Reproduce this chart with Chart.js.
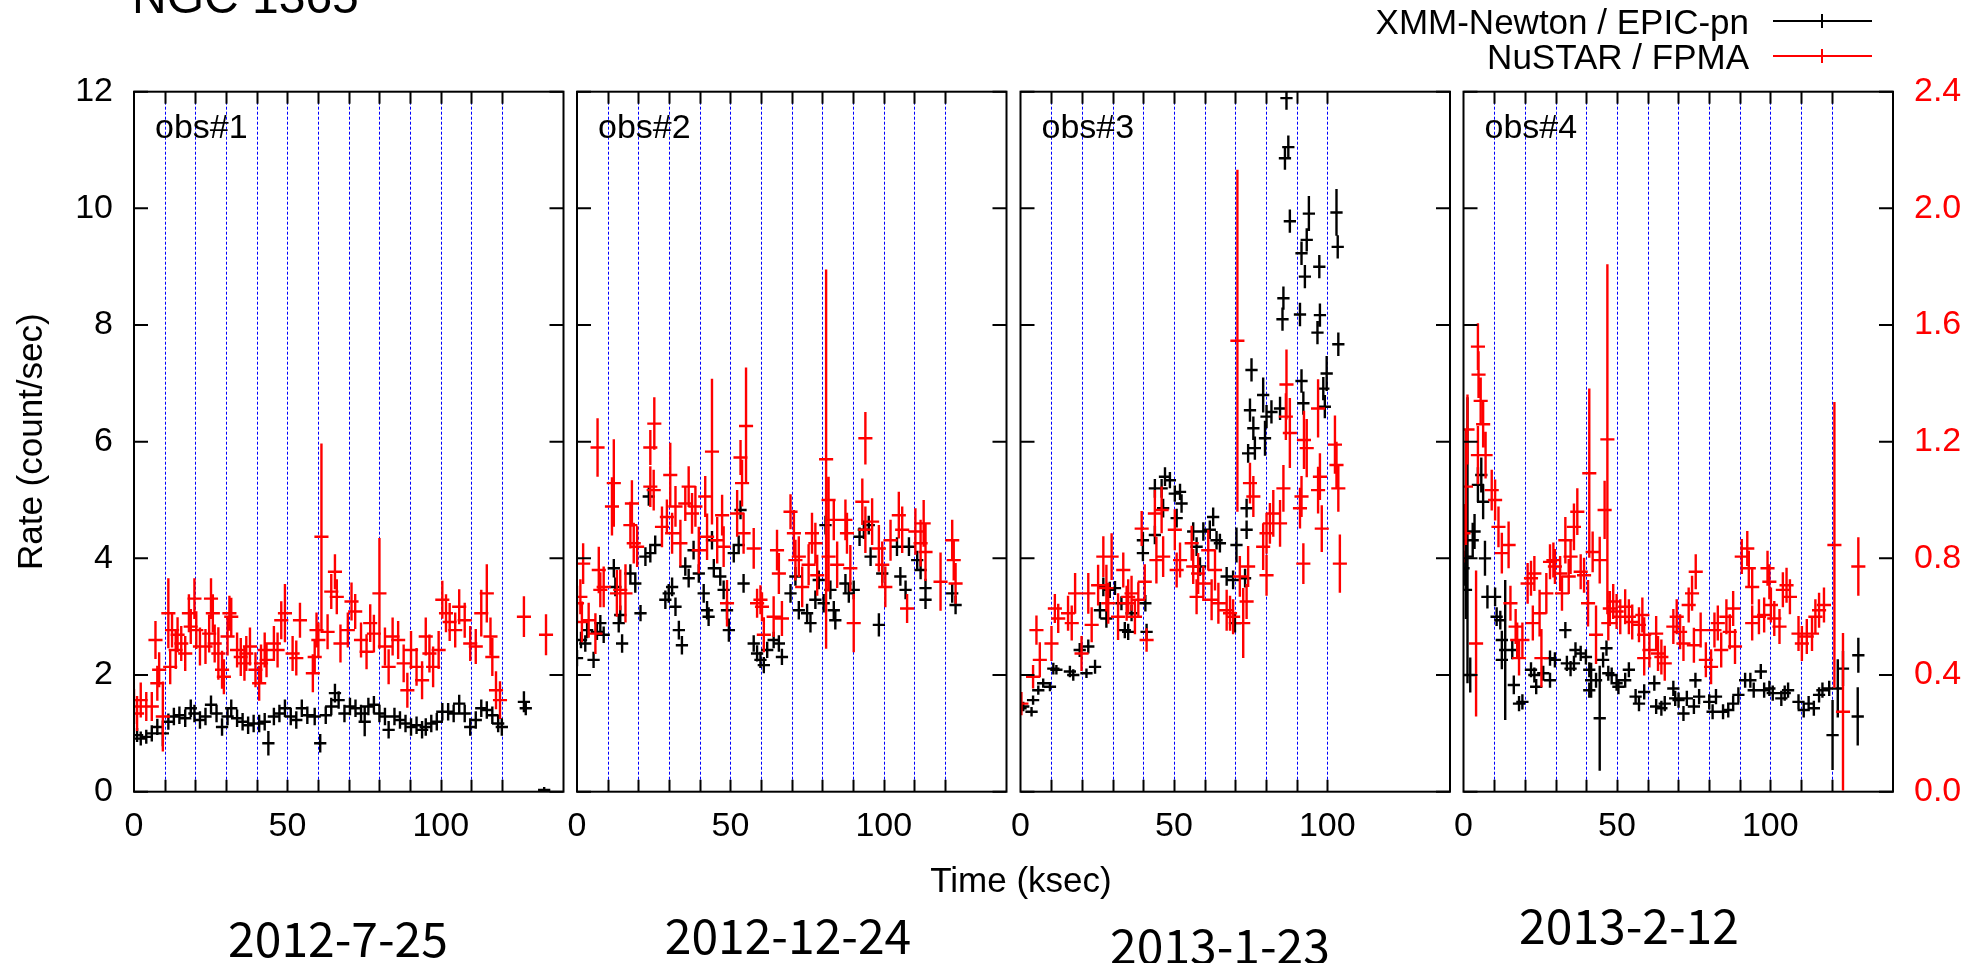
<!DOCTYPE html>
<html><head><meta charset="utf-8">
<script src="https://cdn.jsdelivr.net/npm/chart.js@4.4.1/dist/chart.umd.min.js"></script>
<style>
html,body{margin:0;padding:0;background:#fff;}
#wrap{position:relative;width:1977px;height:963px;overflow:hidden;font-family:"Liberation Sans",Arial,sans-serif;background:#fff;}
canvas{position:absolute;left:0;top:0;}
.t{position:absolute;white-space:nowrap;color:#000;line-height:1;}
.leg{position:absolute;height:2px;}
.legv{position:absolute;width:2px;}
</style></head><body><div id="wrap">
<canvas id="c0" width="1977" height="963"></canvas>
<canvas id="c1" width="1977" height="963"></canvas>
<canvas id="c2" width="1977" height="963"></canvas>
<canvas id="c3" width="1977" height="963"></canvas>
<div class="t" style="left:132px;top:-27px;font-size:48px;">NGC 1365</div>
<div class="t" style="right:228px;top:21px;transform:translateY(-50%);font-size:35px;">XMM-Newton / EPIC-pn</div>
<div class="t" style="right:228px;top:56px;transform:translateY(-50%);font-size:35px;">NuSTAR / FPMA</div>
<div class="leg" style="left:1773px;top:20px;width:99px;background:#000;"></div>
<div class="legv" style="left:1821px;top:14px;height:14px;background:#000;"></div>
<div class="leg" style="left:1773px;top:55px;width:99px;background:#f00;"></div>
<div class="legv" style="left:1821px;top:49px;height:14px;background:#f00;"></div>
<div class="t" style="left:1021px;top:879px;transform:translate(-50%,-50%);font-size:35px;">Time (ksec)</div>
<div id="dates"></div>
</div>
<script>
// ---------- data ----------
const panelLabels = ['obs#1','obs#2','obs#3','obs#4'];
const obsDates = ['2012-7-25','2012-12-24','2013-1-23','2013-2-12'];
const gridTimes = [[10,20,30,40,50,60,70,80,90,100,110,120],[10,20,30,40,50,60,70,80,90,100,110,120],[10,20,30,40,50,60,70,80,90,100],[10,20,30,40,50,60,70,80,90,100,110,120]];
const xTickStep = 50;
const leftTickStep = 2;
const rightTickStep = 0.4;
const XMM_XERR = 2.0;     // ksec, half bin
const NUSTAR_XERR = 2.3;  // ksec, half bin

// [time ksec, rate count/s, error]
const obs1_xmm = [[1,0.97,0.12],[2.2,0.91,0.12],[4,0.94,0.12],[5.8,1.0,0.14],[7.6,1.11,0.14],[9.4,1.0,0.22],[11.2,1.2,0.14],[13,1.29,0.15],[14.8,1.31,0.15],[16.7,1.26,0.15],[18.5,1.43,0.15],[19.7,1.34,0.15],[21.5,1.23,0.15],[23.3,1.29,0.15],[25.1,1.49,0.16],[26.9,1.34,0.15],[28.7,1.11,0.15],[30.5,1.29,0.15],[31.7,1.43,0.15],[33.6,1.26,0.15],[35.4,1.2,0.15],[37.2,1.14,0.15],[39,1.17,0.15],[40.8,1.17,0.15],[42.6,1.2,0.15],[43.8,0.83,0.21],[45.6,1.29,0.15],[47.4,1.34,0.15],[49.2,1.43,0.15],[51.1,1.29,0.15],[52.9,1.23,0.15],[54.7,1.43,0.15],[56.5,1.31,0.15],[58.9,1.29,0.15],[60.7,0.83,0.16],[62.5,1.31,0.15],[64.3,1.46,0.15],[65.5,1.69,0.16],[66.7,1.57,0.15],[68.6,1.34,0.15],[70.4,1.46,0.15],[72.2,1.43,0.15],[74,1.34,0.15],[75.2,1.2,0.25],[76.4,1.46,0.15],[78.2,1.49,0.15],[80,1.34,0.15],[81.8,1.29,0.15],[83,1.06,0.15],[84.9,1.29,0.15],[86.7,1.23,0.15],[88.5,1.17,0.15],[90.3,1.11,0.15],[92.1,1.14,0.15],[93.9,1.06,0.15],[95.1,1.11,0.15],[96.9,1.17,0.15],[98.7,1.2,0.15],[100.5,1.37,0.15],[102.4,1.37,0.15],[104.2,1.34,0.15],[106,1.51,0.15],[107.8,1.34,0.15],[109.6,1.11,0.15],[111.4,1.23,0.15],[113.2,1.43,0.15],[115,1.4,0.15],[116.8,1.31,0.15],[118.7,1.17,0.15],[119.9,1.11,0.15],[127.1,1.54,0.18],[127.7,1.43,0.12],[133.7,0.03,0.05]];
const obs1_nustar = [[0,0.292,0.06],[1,0.268,0.06],[2.2,0.314,0.06],[4,0.292,0.05],[5.8,0.292,0.05],[7,0.52,0.065],[7.6,0.372,0.06],[8.2,0.418,0.06],[9.4,0.258,0.12],[11.2,0.612,0.12],[11.8,0.428,0.06],[12.4,0.554,0.06],[13.6,0.486,0.065],[14.2,0.538,0.06],[15.4,0.508,0.06],[16.7,0.474,0.06],[17.9,0.612,0.065],[18.5,0.566,0.06],[19.7,0.662,0.07],[20.3,0.554,0.065],[21.5,0.498,0.065],[23.3,0.498,0.06],[24.5,0.542,0.065],[25.1,0.662,0.07],[25.7,0.612,0.065],[26.3,0.508,0.065],[27.5,0.474,0.09],[28.7,0.418,0.065],[29.3,0.394,0.06],[30.5,0.532,0.065],[31.1,0.612,0.06],[31.7,0.6,0.065],[33.6,0.486,0.06],[34.8,0.462,0.065],[36,0.44,0.06],[36.6,0.474,0.06],[37.8,0.498,0.065],[39.6,0.418,0.06],[40.8,0.372,0.06],[41.4,0.44,0.065],[42.6,0.486,0.06],[43.2,0.452,0.06],[45.6,0.508,0.06],[46.8,0.486,0.06],[48,0.588,0.065],[49.2,0.612,0.1],[51.7,0.474,0.06],[52.9,0.458,0.06],[54.1,0.588,0.06],[58.3,0.406,0.065],[58.9,0.462,0.06],[59.5,0.554,0.06],[60.1,0.52,0.06],[61.1,0.874,0.32],[63.1,0.548,0.06],[64.3,0.686,0.06],[65.5,0.754,0.06],[66.1,0.668,0.06],[67.3,0.508,0.065],[69.7,0.554,0.06],[70.9,0.652,0.065],[72.1,0.618,0.06],[74,0.52,0.06],[75.8,0.48,0.06],[77,0.578,0.065],[78.2,0.542,0.065],[80,0.68,0.19],[81.8,0.498,0.065],[83,0.428,0.06],[84.3,0.532,0.065],[86.1,0.52,0.065],[87.9,0.44,0.065],[89.1,0.348,0.06],[90.3,0.486,0.065],[92.1,0.428,0.065],[93.9,0.382,0.065],[95.1,0.532,0.065],[96.3,0.474,0.065],[97.5,0.428,0.07],[99.3,0.486,0.065],[100.5,0.658,0.065],[101.7,0.612,0.065],[102.9,0.582,0.065],[104.7,0.554,0.06],[106,0.634,0.06],[107.8,0.588,0.06],[109.6,0.508,0.06],[111.4,0.498,0.06],[113.2,0.612,0.08],[115,0.68,0.1],[116.2,0.532,0.065],[116.8,0.462,0.065],[118,0.348,0.065],[119.3,0.314,0.065],[127.1,0.6,0.07],[134.3,0.538,0.07]];

const obs2_xmm = [[0,2.29,0.14],[1.3,2.6,0.14],[2.7,2.54,0.14],[3.3,2.77,0.14],[5.4,2.26,0.14],[6.5,2.74,0.14],[7.6,2.89,0.14],[8.7,2.69,0.14],[12,3.83,0.16],[12.5,3.51,0.16],[13.6,2.89,0.16],[14.1,3.03,0.16],[14.7,2.54,0.16],[17.4,3.74,0.16],[19,3.57,0.16],[20.7,3.06,0.14],[22.3,4.03,0.16],[23.4,5.06,0.16],[23.9,4.09,0.16],[25.5,4.23,0.16],[28.8,3.29,0.16],[29.9,3.4,0.16],[31,3.51,0.16],[32.1,3.17,0.16],[33.2,2.77,0.16],[34.2,2.51,0.16],[35.3,3.86,0.16],[36.4,3.66,0.16],[38,4.14,0.16],[39.7,3.74,0.16],[41.3,3.4,0.16],[42.4,3.11,0.16],[42.9,3.0,0.16],[44,4.31,0.16],[44.6,3.83,0.16],[46.7,3.69,0.16],[47.8,3.46,0.16],[48.9,3.11,0.16],[49.5,2.77,0.2],[51.1,4.09,0.16],[52.7,4.23,0.16],[53.3,4.83,0.16],[54.3,3.57,0.16],[57.6,2.54,0.14],[58.7,2.37,0.14],[59.8,2.26,0.14],[60.9,2.17,0.14],[62,2.43,0.14],[64.1,2.6,0.14],[65.8,2.54,0.14],[66.8,2.31,0.14],[69.6,3.4,0.16],[71.2,3.69,0.16],[72.3,3.11,0.16],[75,3.06,0.16],[76.1,2.89,0.16],[77.7,3.29,0.16],[78.8,3.63,0.16],[80.4,3.23,0.16],[81,4.57,0.16],[82.6,3.46,0.16],[83.7,3.11,0.16],[84.2,2.94,0.16],[87.5,3.57,0.16],[88.6,3.4,0.16],[90.2,3.46,0.16],[92.1,4.37,0.16],[93.5,4.49,0.16],[95.1,4.57,0.16],[95.7,4.03,0.16],[98.4,2.86,0.2],[99.5,3.74,0.16],[104.3,4.2,0.16],[105.4,3.69,0.16],[107.1,3.46,0.16],[108.2,4.2,0.16],[110.9,3.97,0.16],[112,3.8,0.16],[113.6,3.49,0.16],[113.6,3.29,0.16],[122.3,3.4,0.16],[123.4,3.2,0.16]];
const obs2_nustar = [[0,0.646,0.06],[1.1,0.668,0.06],[1.6,0.582,0.07],[2,0.782,0.07],[3.8,0.588,0.06],[6,0.542,0.07],[6.7,1.18,0.1],[7.1,0.76,0.08],[7.6,0.692,0.06],[8.7,0.702,0.07],[11.4,0.978,0.1],[12,1.058,0.15],[13,0.68,0.08],[14.1,0.692,0.07],[15.8,0.68,0.1],[17.4,0.914,0.08],[17.9,0.988,0.08],[18.5,0.852,0.07],[19.6,0.84,0.07],[23.9,1.18,0.06],[23.9,1.046,0.07],[25,1.034,0.07],[25.2,1.262,0.09],[27.7,0.908,0.07],[29.3,0.942,0.06],[30.4,1.086,0.11],[31,0.886,0.07],[32.1,0.978,0.07],[33.7,0.852,0.08],[35.3,0.988,0.06],[36.4,1.046,0.07],[37.5,0.954,0.07],[38.6,0.978,0.07],[39.7,0.828,0.08],[41.8,1.012,0.07],[42.4,0.874,0.08],[44,1.166,0.25],[45.7,0.862,0.08],[47.3,0.948,0.07],[47.8,0.84,0.07],[48.9,0.646,0.08],[52.2,0.954,0.08],[53.3,1.146,0.06],[53.8,1.058,0.08],[54.3,0.886,0.07],[55.1,1.254,0.2],[57.6,0.834,0.07],[58.7,0.646,0.05],[59.8,0.658,0.05],[60.3,0.634,0.05],[60.9,0.538,0.06],[64.1,0.6,0.07],[65.2,0.828,0.07],[65.8,0.748,0.07],[66.8,0.594,0.06],[69.6,0.96,0.06],[70.7,0.886,0.08],[71.2,0.794,0.07],[72.3,0.806,0.07],[73.4,0.702,0.07],[75.5,0.778,0.07],[76.6,0.886,0.07],[77.7,0.852,0.07],[78.3,0.742,0.07],[81.2,1.14,0.65],[82,1.0,0.08],[82,0.806,0.12],[83.7,0.932,0.07],[84.8,0.778,0.08],[87.5,0.932,0.07],[88,0.886,0.07],[89.1,0.766,0.08],[90.2,0.578,0.1],[93,0.994,0.08],[94,1.212,0.09],[94,0.898,0.08],[96.2,0.926,0.08],[98.4,0.834,0.08],[99.5,0.778,0.08],[100.5,0.702,0.07],[102.2,0.862,0.07],[104.9,0.948,0.08],[106,0.898,0.08],[107.6,0.628,0.05],[110.3,0.892,0.08],[112,0.852,0.08],[113,0.92,0.08],[113.6,0.822,0.1],[118.5,0.72,0.1],[122.3,0.862,0.07],[122.8,0.794,0.07],[123.4,0.714,0.07]];

const obs3_xmm = [[0,1.43,0.08],[0.9,1.46,0.08],[3.6,1.37,0.08],[4.1,1.57,0.08],[5.8,1.74,0.08],[7.4,1.86,0.08],[9.6,1.8,0.08],[10.7,2.11,0.1],[11.7,2.09,0.08],[16.1,2.06,0.1],[17.2,2.0,0.1],[19.3,2.43,0.12],[21.5,2.03,0.08],[22.1,2.49,0.12],[24.3,2.14,0.12],[25.9,3.11,0.14],[27,3.51,0.16],[28,2.97,0.16],[29.1,3.46,0.14],[30.8,3.49,0.12],[32.9,3.23,0.12],[34,2.77,0.14],[35.1,2.74,0.14],[36.2,3.06,0.14],[39.9,4.31,0.14],[39.9,4.09,0.14],[40.7,3.23,0.14],[41.1,2.74,0.14],[43.8,4.4,0.16],[43.8,5.2,0.16],[46,5.2,0.16],[46.5,4.86,0.16],[47.1,5.4,0.16],[48.7,5.34,0.14],[50.3,5.11,0.14],[50.9,4.69,0.16],[52,5.14,0.14],[52.5,4.94,0.16],[56.3,4.46,0.16],[57.4,4.2,0.16],[58.5,3.86,0.16],[59.6,4.46,0.16],[61.7,4.49,0.16],[62.8,4.71,0.16],[63.9,4.31,0.16],[65,4.26,0.16],[67.2,3.69,0.16],[69.3,3.63,0.16],[69.9,2.89,0.16],[70.4,4.23,0.3],[73.2,3.66,0.16],[73.7,4.49,0.16],[73.7,4.86,0.16],[74.2,5.8,0.16],[74.8,6.54,0.2],[75.3,7.23,0.2],[75.9,6.23,0.2],[76.4,5.89,0.2],[79.1,6.8,0.3],[79.7,6.06,0.3],[80.2,6.43,0.2],[81.8,6.51,0.2],[84.6,6.57,0.2],[85.4,8.1,0.2],[85.7,8.46,0.2],[86.2,10.86,0.2],[86.7,11.89,0.2],[87.3,11.05,0.2],[87.8,9.78,0.2],[91.1,8.18,0.2],[91.6,9.23,0.2],[91.6,7.04,0.2],[92.2,6.66,0.2],[92.7,8.83,0.2],[93.3,9.46,0.2],[94,9.91,0.3],[96.8,7.87,0.2],[97.4,9.0,0.2],[97.6,8.17,0.2],[98.7,6.91,0.2],[99.2,6.6,0.2],[99.8,7.17,0.3],[103,9.93,0.4],[103.4,9.34,0.2],[103.6,7.67,0.2]];
const obs3_nustar = [[0,0.302,0.04],[0.3,0.302,0.04],[4.1,0.394,0.04],[5.2,0.554,0.05],[6.3,0.452,0.06],[10.1,0.508,0.06],[11.2,0.628,0.05],[12.3,0.594,0.05],[15.5,0.612,0.06],[16.7,0.578,0.06],[17.8,0.68,0.07],[19.9,0.474,0.06],[22.1,0.68,0.07],[23.2,0.572,0.06],[25.3,0.708,0.07],[27,0.806,0.07],[28,0.698,0.08],[28.6,0.646,0.07],[29.7,0.806,0.08],[31.8,0.6,0.08],[33.5,0.76,0.06],[34.6,0.646,0.06],[35.1,0.668,0.06],[36.2,0.68,0.06],[37.3,0.6,0.06],[38.4,0.658,0.06],[39.5,0.902,0.06],[40.5,0.72,0.06],[41.1,0.52,0.04],[43.8,0.954,0.08],[44.3,0.794,0.08],[46,0.966,0.08],[46.5,0.806,0.07],[50.3,0.898,0.07],[50.9,0.76,0.06],[52,0.794,0.06],[55.8,0.852,0.06],[56.3,0.772,0.06],[57.4,0.668,0.06],[57.9,0.748,0.07],[59.6,0.714,0.06],[61.2,0.828,0.07],[62.3,0.658,0.07],[63.4,0.76,0.07],[64.5,0.646,0.07],[67.2,0.622,0.07],[68.3,0.612,0.06],[69.3,0.6,0.06],[70.7,1.546,0.586],[71.5,0.738,0.07],[72.6,0.578,0.12],[73.7,0.652,0.06],[74.2,0.772,0.07],[74.8,1.058,0.07],[75.9,1.012,0.07],[79.1,0.84,0.08],[80.2,0.742,0.07],[80.2,0.886,0.07],[81.3,0.92,0.07],[82.4,0.954,0.08],[84.6,0.92,0.08],[85.7,1.04,0.08],[86.5,1.286,0.08],[86.7,1.396,0.12],[87.8,1.23,0.12],[91.1,0.972,0.07],[91.6,1.012,0.07],[92.2,0.782,0.07],[92.4,1.206,0.1],[93.3,1.178,0.1],[97,1.314,0.1],[97,1.034,0.08],[97.6,1.08,0.08],[98.2,0.902,0.08],[102.5,1.19,0.1],[103,1.12,0.08],[103.6,1.04,0.08],[104.1,0.782,0.1]];

const obs4_xmm = [[0,3.83,0.3],[0.8,4.03,0.4],[0.8,3.46,0.5],[1.3,4.31,2.45],[2.2,2.0,0.3],[3,4.31,0.3],[3.6,4.46,0.3],[4.7,5.26,0.3],[5.8,5.43,0.3],[6.4,4.97,0.3],[7,4.0,0.3],[7.8,3.34,0.2],[10.3,3.34,0.16],[10.8,3.0,0.16],[12,2.94,0.16],[12.5,2.6,0.16],[12.5,2.26,0.16],[13.6,2.43,1.2],[15.9,2.43,0.16],[16.4,1.83,0.16],[18.1,1.51,0.13],[19.2,1.54,0.13],[22,2.09,0.13],[23.1,2.0,0.13],[23.7,1.8,0.13],[26,2.03,0.13],[28.2,1.91,0.13],[28.2,2.29,0.13],[29.8,2.26,0.13],[33.2,2.77,0.14],[33.7,2.2,0.13],[34.9,2.11,0.13],[36,2.2,0.13],[36.5,2.43,0.13],[38.2,2.37,0.13],[39.9,2.31,0.13],[41,2.09,0.13],[41.6,1.91,0.3],[41,1.74,0.13],[43.2,1.91,0.13],[44.4,1.26,0.9],[45.5,2.26,0.13],[46.6,2.46,0.13],[47.2,2.03,0.13],[48.3,2.0,0.13],[49.9,1.86,0.13],[50.5,1.8,0.13],[52.7,1.91,0.13],[53.9,2.09,0.13],[56.1,1.63,0.13],[57.2,1.51,0.13],[58.9,1.71,0.13],[62.2,1.86,0.13],[62.8,1.46,0.13],[64.5,1.43,0.13],[65.6,1.51,0.13],[68.4,1.77,0.13],[69,1.6,0.13],[70.1,1.57,0.13],[71.7,1.34,0.13],[72.8,1.6,0.13],[75.1,1.46,0.13],[75.6,1.91,0.13],[76.8,1.63,0.13],[80.1,1.54,0.13],[81.2,1.37,0.13],[82.3,1.63,0.13],[84.6,1.37,0.13],[86.3,1.4,0.13],[87.9,1.51,0.13],[89.6,1.66,0.13],[91.8,1.91,0.13],[93.5,1.91,0.13],[94.6,1.74,0.13],[96.9,2.06,0.13],[98,1.74,0.13],[99.7,1.77,0.13],[100.8,1.69,0.13],[103.6,1.6,0.13],[104.7,1.69,0.13],[105.8,1.74,0.13],[109.2,1.54,0.13],[110.9,1.4,0.13],[112.5,1.51,0.13],[114.2,1.43,0.13],[115.9,1.66,0.13],[117,1.74,0.13],[119.2,1.77,0.13],[120.3,0.97,0.6],[122,1.77,0.5],[123.7,2.11,0.3],[128.5,1.29,0.5],[128.7,2.34,0.3]];
const obs4_nustar = [[0,0.886,0.1],[0.8,1.046,0.2],[1.3,1.242,0.12],[4.1,0.508,0.25],[4.7,1.526,0.08],[4.7,1.154,0.1],[4.9,1.43,0.08],[5.6,1.34,0.08],[6.4,1.26,0.08],[7.2,1.154,0.08],[9.2,1.034,0.07],[10.3,1.0,0.07],[11.4,0.908,0.07],[12.5,0.818,0.07],[14.7,0.846,0.08],[15.3,0.646,0.06],[17,0.566,0.06],[17.5,0.52,0.06],[18.1,0.458,0.06],[19.2,0.52,0.06],[20.9,0.714,0.07],[22,0.732,0.06],[22.6,0.578,0.06],[23.1,0.748,0.06],[24.8,0.612,0.08],[25.4,0.458,0.1],[27,0.68,0.07],[28.2,0.788,0.06],[29.3,0.794,0.06],[29.8,0.772,0.06],[31.5,0.748,0.06],[32.1,0.68,0.06],[33.2,0.862,0.08],[34.3,0.738,0.06],[34.9,0.806,0.06],[36,0.908,0.08],[37.1,0.96,0.08],[38.2,0.754,0.06],[39.3,0.742,0.06],[40.6,0.646,0.08],[41,1.092,0.29],[42.1,0.822,0.07],[43.2,0.538,0.1],[44.4,0.794,0.08],[46,0.966,0.1],[46.9,1.208,0.6],[47.2,0.578,0.06],[47.7,0.628,0.06],[48.8,0.652,0.06],[49.9,0.618,0.06],[51.1,0.6,0.06],[52.7,0.634,0.06],[53.9,0.6,0.06],[55,0.582,0.06],[57.2,0.572,0.06],[58.3,0.606,0.06],[58.9,0.538,0.06],[58.9,0.458,0.06],[60.6,0.486,0.06],[62.8,0.542,0.06],[63.4,0.474,0.06],[64.5,0.462,0.06],[65.6,0.44,0.06],[68.4,0.566,0.06],[69.5,0.6,0.06],[70.6,0.548,0.06],[71.7,0.508,0.06],[73.4,0.64,0.06],[74.5,0.68,0.06],[75.1,0.502,0.06],[75.7,0.754,0.06],[77.3,0.554,0.06],[79,0.452,0.06],[80.7,0.428,0.06],[81.8,0.554,0.06],[82.9,0.578,0.06],[84,0.486,0.06],[85.7,0.6,0.06],[86.8,0.548,0.06],[87.9,0.628,0.06],[88.5,0.498,0.06],[90.7,0.806,0.06],[92.5,0.834,0.06],[93,0.766,0.06],[94.1,0.702,0.06],[94.1,0.578,0.06],[96.3,0.6,0.06],[98,0.606,0.06],[99.1,0.766,0.06],[99.7,0.72,0.06],[100.2,0.64,0.06],[101.3,0.594,0.06],[103,0.566,0.06],[104.1,0.692,0.06],[105.3,0.708,0.06],[106.4,0.668,0.06],[109.2,0.542,0.06],[110.3,0.508,0.06],[111.9,0.532,0.06],[113.6,0.542,0.06],[114.7,0.6,0.06],[115.9,0.622,0.06],[117.5,0.64,0.06],[120.9,0.846,0.49],[123.7,0.274,0.27],[128.7,0.772,0.1]];

const xmmSeries = [obs1_xmm, obs2_xmm, obs3_xmm, obs4_xmm];
const nustarSeries = [obs1_nustar, obs2_nustar, obs3_nustar, obs4_nustar];

// ---------- layout ----------
const W = 1977, H = 963;
const panelLeft = [134, 577, 1020.5, 1463.5];
const panelWidth = 429.5;
const plotTop = 91.7, plotBottom = 791.7;
const FONT = '"Liberation Sans", Arial, sans-serif';

const datePos = [[338,936],[788,933],[1220,943],[1629,923]];
const dd = document.getElementById('dates');
obsDates.forEach((d,i)=>{
  const e = document.createElement('div');
  e.className='t';
  e.textContent = d;
  e.style.cssText = `left:${datePos[i][0]}px;top:${datePos[i][1]}px;transform:translate(-50%,-50%);font-size:48px;font-family:"Noto Sans CJK SC","Noto Sans",sans-serif;`;
  dd.appendChild(e);
});

const toPts = (arr, xe) => arr.map(([t,v,e]) => ({x:t, y:v, xe:xe, ye:e}));

const panelPlugin = {
  id: 'panel',
  beforeDatasetsDraw(chart, args, opts) {
    const {ctx, chartArea:a, scales:{x}} = chart;
    ctx.save();
    ctx.strokeStyle = '#0000ff'; ctx.lineWidth = 1; ctx.setLineDash([3,2]);
    opts.grid.forEach(g => {
      const px = Math.round(x.getPixelForValue(g)) + 0.5;
      ctx.beginPath(); ctx.moveTo(px, a.top); ctx.lineTo(px, a.bottom); ctx.stroke();
    });
    ctx.restore();
  },
  afterDatasetsDraw(chart) {
    const {ctx, chartArea:a} = chart;
    ctx.save();
    ctx.beginPath(); ctx.rect(a.left, a.top, a.right-a.left, a.bottom-a.top); ctx.clip();
    chart.data.datasets.forEach(ds => {
      const xs = chart.scales.x, ys = chart.scales[ds.yAxisID];
      ctx.strokeStyle = ds.borderColor; ctx.lineWidth = 2.4;
      ctx.beginPath();
      ds.data.forEach(p => {
        const x1 = xs.getPixelForValue(p.x - p.xe), x2 = xs.getPixelForValue(p.x + p.xe);
        const xc = xs.getPixelForValue(p.x);
        const yc = ys.getPixelForValue(p.y);
        const y1 = ys.getPixelForValue(p.y - p.ye), y2 = ys.getPixelForValue(p.y + p.ye);
        ctx.moveTo(x1, yc); ctx.lineTo(x2, yc);
        ctx.moveTo(xc, y1); ctx.lineTo(xc, y2);
      });
      ctx.stroke();
    });
    ctx.restore();
  },
  afterDraw(chart, args, opts) {
    const {ctx, chartArea:a, scales:{x, y}} = chart;
    ctx.save();
    ctx.strokeStyle = '#000'; ctx.lineWidth = 2;
    ctx.beginPath();
    y.ticks.forEach(t => {
      const py = y.getPixelForValue(t.value);
      ctx.moveTo(a.left, py); ctx.lineTo(a.left + 14, py);
      ctx.moveTo(a.right, py); ctx.lineTo(a.right - 14, py);
    });
    opts.grid.forEach(g => {
      const px = Math.round(x.getPixelForValue(g)) + 0.5;
      ctx.moveTo(px, a.top); ctx.lineTo(px, a.top + 12);
      ctx.moveTo(px, a.bottom); ctx.lineTo(px, a.bottom - 12);
    });
    ctx.stroke();
    ctx.strokeRect(a.left, a.top, a.right-a.left, a.bottom-a.top);
    ctx.fillStyle = '#000';
    ctx.font = '34px ' + FONT;
    ctx.textBaseline = 'alphabetic'; ctx.textAlign = 'left';
    ctx.fillText(opts.label, a.left + 21, a.top + 46.3);
    ctx.restore();
  }
};

const tickFont = {family: FONT, size: 34};

for (let i = 0; i < 4; i++) {
  const first = i === 0, last = i === 3;
  const right = panelLeft[i] + panelWidth;
  new Chart(document.getElementById('c'+i), {
    type: 'scatter',
    data: {
      datasets: [
        {label:'XMM-Newton / EPIC-pn', data: toPts(xmmSeries[i], XMM_XERR), yAxisID:'y', borderColor:'#000000', backgroundColor:'#000000', pointRadius:0, showLine:false},
        {label:'NuSTAR / FPMA', data: toPts(nustarSeries[i], NUSTAR_XERR), yAxisID:'y2', borderColor:'#ff0000', backgroundColor:'#ff0000', pointRadius:0, showLine:false}
      ]
    },
    options: {
      responsive: false, animation: false, devicePixelRatio: 1, events: [],
      layout: {padding: {left: first ? 10 : panelLeft[i], right: last ? 0 : W - right, top: plotTop, bottom: 0}},
      plugins: {legend: {display:false}, tooltip: {enabled:false}, panel: {grid: gridTimes[i], label: panelLabels[i]}},
      scales: {
        x: {type:'linear', min:0, max:140, position:'bottom',
            ticks:{stepSize:xTickStep, includeBounds:false, font:tickFont, color:'#000', padding:15, maxRotation:0, autoSkip:false},
            grid:{display:false, drawTicks:false}, border:{display:false},
            afterFit: s => { s.height = H - plotBottom; }},
        y: {type:'linear', min:0, max:12, position:'left', display: first,
            ticks:{stepSize:leftTickStep, font:tickFont, color:'#000', padding:21},
            grid:{display:false, drawTicks:false}, border:{display:false},
            title:{display:true, text:'Rate (count/sec)', font:{family:FONT, size:35}, color:'#000', padding:{top:1, bottom:0}},
            afterFit: s => { if (first) s.width = 124; }},
        y2: {type:'linear', min:0, max:2.4, position:'right', display: last,
            ticks:{stepSize:rightTickStep, font:tickFont, color:'#ff0000', padding:21, callback: v => Number(v).toFixed(1)},
            grid:{display:false, drawTicks:false}, border:{display:false},
            afterFit: s => { if (last) s.width = W - 1893; }}
      }
    },
    plugins: [panelPlugin]
  });
}
</script>
</body></html>
